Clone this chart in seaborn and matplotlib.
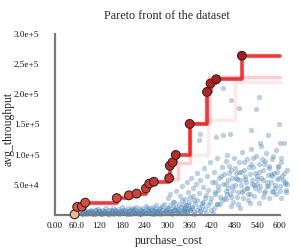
import numpy as np
import pandas as pd
import matplotlib
matplotlib.use("Agg")
import matplotlib.pyplot as plt
from matplotlib.ticker import FixedLocator, FixedFormatter
import seaborn as sns

# --- dados: nuvem de configuracoes (custo, vazao em milhares) ---
cloud_cost = [
    66, 70, 74, 79, 83, 86, 91, 94, 98, 101,
    104, 109, 112, 116, 119, 123, 127, 131, 134, 138,
    141, 146, 150, 153, 157, 160, 164, 169, 172, 176,
    179, 184, 188, 191, 195, 199, 203, 207, 210, 214,
    218, 222, 226, 229, 233, 237, 240, 244, 248, 252,
    255, 259, 263, 267, 270, 274, 278, 282, 286, 289,
    293, 297, 301, 304, 308, 312, 316, 320, 324, 327,
    331, 335, 339, 343, 346, 350, 354, 358, 362, 366,
    88, 107, 125, 143, 162, 181, 197, 215, 231, 249,
    265, 281, 298, 313, 329, 348, 371, 389, 405, 423,
    302, 309, 318, 323, 334, 341, 347, 352, 357, 361,
    365, 369, 373, 377, 381, 384, 388, 392, 396, 399,
    403, 407, 410, 414, 418, 421, 425, 428, 432, 435,
    439, 442, 446, 449, 453, 456, 460, 463, 467, 470,
    344, 356, 368, 379, 393, 401, 415, 427, 441, 458,
    462, 466, 471, 474, 478, 481, 485, 488, 492, 495,
    499, 502, 506, 509, 513, 516, 520, 523, 527, 530,
    534, 537, 541, 544, 548, 551, 555, 558, 562, 565,
    569, 572, 576, 579, 583, 586, 590, 593, 597, 600,
    604, 607, 611, 614, 618, 621, 476, 489, 503, 517,
    531, 546, 559, 573, 588, 602, 615, 483, 497, 511,
    525, 539, 553, 567, 581, 595, 609, 470, 494, 520,
    385, 387, 431, 449, 469, 524, 549, 602, 449, 471,
    491, 538, 546, 599, 570,
    72, 77, 81, 85, 90, 96, 100, 105, 110, 114,
    118, 121, 126, 130, 135, 139, 144, 148, 152, 156,
    161, 165, 170, 174, 178, 183, 187, 192, 196, 201,
    205, 209, 213, 217, 221, 225, 230, 234, 238, 242,
    246, 251, 256, 260, 264, 268, 272, 277, 281, 285,
    290, 294, 299, 303, 307, 311, 315, 319, 323, 328,
    332, 337, 341, 345, 349, 353, 357, 361, 366, 371,
    375, 380, 385, 390, 396, 402, 409, 416, 424, 433,
    428, 436, 443, 451, 458, 465, 472, 480, 486, 491,
    497, 504, 508, 514, 519, 526, 529, 535, 540, 545,
    550, 556, 561, 566, 571, 577, 582, 587, 592, 598,
    605, 612, 619, 433, 447, 461, 475, 487, 500, 512,
    522, 533, 544, 556, 568, 579, 591, 603, 616, 457,
]
cloud_tput_k = [
    3, 6, 2, 8, 4, 1, 7, 3, 9, 5,
    2, 8, 4, 10, 6, 2, 9, 3, 7, 11,
    4, 1, 8, 5, 12, 3, 6, 10, 2, 7,
    13, 4, 9, 3, 11, 6, 2, 12, 8, 4,
    14, 5, 10, 2, 12, 7, 3, 15, 9, 5,
    11, 2, 14, 7, 17, 4, 10, 6, 15, 3,
    19, 8, 12, 5, 17, 2, 21, 9, 14, 6,
    19, 4, 24, 11, 7, 16, 3, 21, 9, 13,
    5, 2, 4, 1, 3, 5, 2, 4, 1, 3,
    6, 2, 4, 7, 3, 5, 2, 6, 4, 3,
    28, 35, 22, 40, 31, 48, 26, 55, 38, 30,
    62, 44, 25, 52, 70, 36, 58, 20, 47, 78,
    33, 65, 42, 88, 28, 55, 72, 38, 95, 48,
    62, 30, 80, 52, 68, 40, 100, 58, 35, 75,
    18, 12, 32, 24, 15, 28, 22, 35, 18, 26,
    45, 82, 30, 62, 95, 50, 70, 38, 88, 58,
    105, 42, 75, 60, 92, 35, 68, 110, 52, 80,
    44, 98, 65, 72, 48, 115, 58, 85, 40, 102,
    66, 78, 55, 92, 38, 70, 108, 60, 82, 48,
    95, 65, 120, 55, 42, 75, 22, 18, 28, 25,
    32, 20, 36, 28, 45, 40, 52, 62, 72, 55,
    85, 60, 92, 48, 65, 80, 58, 15, 12, 20,
    125, 134, 129, 133, 134, 141, 119, 119, 210, 191,
    177, 175, 196, 151, 132,
    5, 2, 4, 7, 3, 6, 2, 5, 8, 3,
    6, 4, 2, 7, 5, 3, 9, 4, 6, 2,
    8, 5, 3, 7, 4, 9, 6, 2, 5, 8,
    3, 7, 10, 4, 6, 2, 9, 5, 7, 3,
    11, 6, 4, 8, 2, 10, 5, 7, 12, 4,
    8, 6, 3, 11, 7, 5, 13, 9, 4, 10,
    7, 14, 5, 9, 12, 6, 16, 8, 11, 5,
    18, 9, 13, 7, 22, 10, 16, 8, 12, 19,
    55, 42, 65, 28, 52, 70, 48, 78, 60, 72,
    50, 88, 64, 45, 80, 58, 95, 70, 52, 85,
    62, 75, 90, 55, 82, 68, 98, 50, 72, 62,
    88, 70, 52, 18, 25, 35, 42, 30, 38, 45,
    35, 50, 42, 30, 48, 40, 35, 28, 38, 90,
]

# fronteira de Pareto principal
front_cost = [53.6, 60.5, 73, 81.8, 166, 198.6, 219, 243.7, 252.7, 265,
              305.8, 307.5, 314.6, 323.4, 360.5, 406.7, 416, 431.4, 499.6]
front_tput_k = [1.0, 13.3, 13.8, 20.4, 28, 32.6, 35.4, 44, 52, 55,
                61, 81.7, 87, 99.5, 151, 204, 218, 225, 264]

# fronteiras secundarias (mais claras)
front2_cost = [300, 328, 362, 413]
front2_tput_k = [60, 86, 152, 228]
front3_cost = [360, 410, 480]
front3_tput_k = [100, 157, 221]

x_ticks = [0, 60, 120, 180, 240, 300, 360, 420, 480, 540, 600]
x_labels = ["0.00", "60.0", "120", "180", "240", "300", "360", "420", "480", "540", "600"]
y_ticks = [0, 50000, 100000, 150000, 200000, 250000, 300000]
y_labels = ["", "5.0e+4", "1.0e+5", "1.5e+5", "2.0e+5", "2.5e+5", "3.0e+5"]

X_END = 600

sns.set_style("white")
plt.rcParams["font.family"] = ["Liberation Serif", "DejaVu Serif"]

fig = plt.figure(figsize=(3.0, 2.5), dpi=100)
ax = fig.add_axes([0.1567, 0.1208, 0.8125, 0.7552])

cloud = pd.DataFrame({"purchase_cost": cloud_cost,
                      "avg_throughput": np.array(cloud_tput_k) * 1000})
sns.scatterplot(data=cloud, x="purchase_cost", y="avg_throughput", ax=ax,
                color="#4682b4", alpha=0.36, s=15, linewidth=0, zorder=1)


def step_df(xs, ys_k):
    xs = list(xs) + [X_END]
    ys = list(ys_k) + [ys_k[-1]]
    return pd.DataFrame({"x": xs, "y": np.array(ys) * 1000})


for xs, ys, a in [(front3_cost, front3_tput_k, 0.09),
                  (front2_cost, front2_tput_k, 0.2)]:
    sns.lineplot(data=step_df(xs, ys), x="x", y="y", ax=ax, color="#ff0000",
                 alpha=a, lw=2.5, drawstyle="steps-post", estimator=None,
                 sort=False, zorder=2)

sns.lineplot(data=step_df(front_cost, front_tput_k), x="x", y="y", ax=ax,
             color="#ff0000", alpha=0.8, lw=2.6, drawstyle="steps-post",
             estimator=None, sort=False, zorder=3)

front = pd.DataFrame({"x": front_cost, "y": np.array(front_tput_k) * 1000,
                      "rank": range(len(front_cost))})
cores = ["#f5b788"] + sns.blend_palette(["#e8513b", "#b3151b"], len(front_cost) - 1)
sns.scatterplot(data=front, x="x", y="y", hue="rank", palette=cores, ax=ax,
                s=40, edgecolor="#2b2b2b", linewidth=0.8, legend=False, zorder=4)

ax.set_xlim(-20, 630)
ax.set_ylim(-8000, 305000)

for side in ["top", "right"]:
    ax.spines[side].set_visible(False)
for side in ["left", "bottom"]:
    ax.spines[side].set_color("#7a7a7a")
    ax.spines[side].set_linewidth(1.6)
    ax.spines[side].set_position(("data", 0))
ax.spines["bottom"].set_bounds(0, X_END)
ax.spines["left"].set_bounds(0, 300000)

ax.xaxis.set_major_locator(FixedLocator(x_ticks))
ax.xaxis.set_major_formatter(FixedFormatter(x_labels))
ax.yaxis.set_major_locator(FixedLocator(y_ticks))
ax.yaxis.set_major_formatter(FixedFormatter(y_labels))
ax.xaxis.set_minor_locator(FixedLocator([0, X_END]))
ax.yaxis.set_minor_locator(FixedLocator([0, 300000]))
ax.tick_params(which="major", length=0, labelsize=6.6, colors="#111111")
ax.tick_params(axis="x", which="major", pad=5)
ax.tick_params(axis="y", which="major", pad=11)
ax.tick_params(which="minor", length=4.3, width=1.6, color="#7a7a7a",
               direction="out")
ax.grid(False)

ax.set_xlabel("purchase_cost", fontsize=8.6)
ax.set_ylabel("avg_throughput", fontsize=8.4)
ax.xaxis.set_label_coords(0.5, -0.112)
ax.xaxis.label.set_va("center")
ax.yaxis.set_label_coords(-0.158, 0.48)
ax.yaxis.label.set_va("center")

fig.text(0.557, 0.936, "Pareto front of the dataset", ha="center",
         va="center", fontsize=8.7)

fig.savefig("out.png", dpi=100)
